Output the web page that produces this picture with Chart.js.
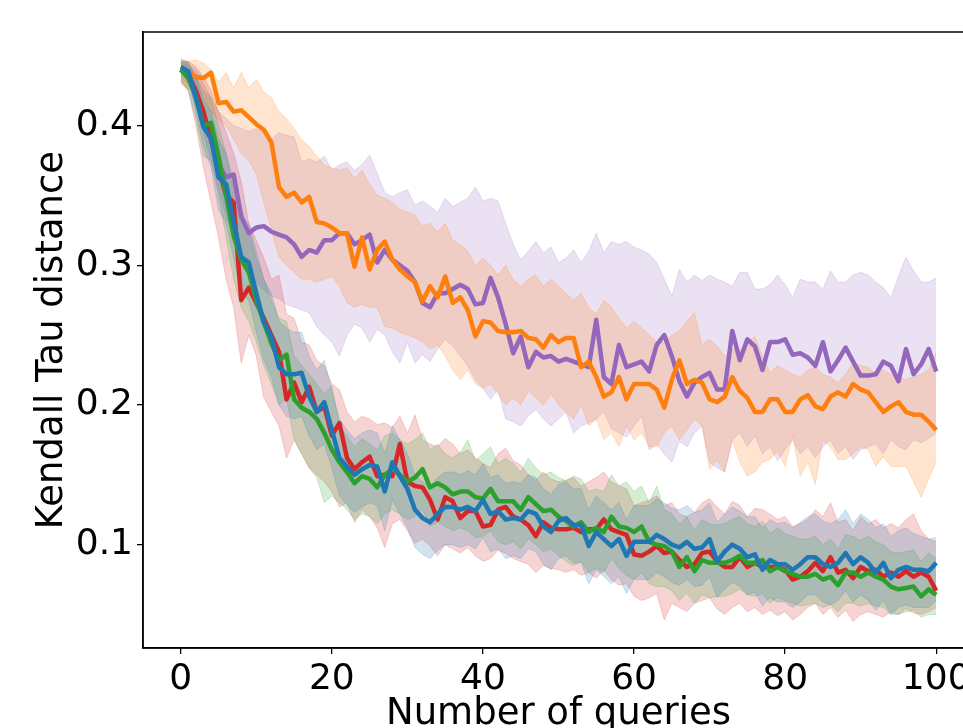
<!DOCTYPE html>
<html><head><meta charset="utf-8">
<script src="https://cdn.jsdelivr.net/npm/chart.js@4.4.1/dist/chart.umd.min.js"></script>
<style>
html,body{margin:0;padding:0;background:#fff;overflow:hidden}
#wrap{position:relative;width:963px;height:728px;overflow:hidden;background:#fff}
#box{position:absolute;left:0;top:0;width:1000px;height:760px}
canvas{display:block}
</style></head><body>
<div id="wrap"><div id="box"><canvas id="c" width="1000" height="760" style="width:1000px;height:760px"></canvas></div></div>
<script>
const queries = [0,1,2,3,4,5,6,7,8,9,10,11,12,13,14,15,16,17,18,19,20,21,22,23,24,25,26,27,28,29,30,31,32,33,34,35,36,37,38,39,40,41,42,43,44,45,46,47,48,49,50,51,52,53,54,55,56,57,58,59,60,61,62,63,64,65,66,67,68,69,70,71,72,73,74,75,76,77,78,79,80,81,82,83,84,85,86,87,88,89,90,91,92,93,94,95,96,97,98,99,100];
const xTicks = [0,20,40,60,80,100];
const yTicks = [0.1,0.2,0.3,0.4];
const yTickLabels = ['0.1','0.2','0.3','0.4'];

const redMean = [0.440,0.436,0.425,0.410,0.390,0.370,0.350,0.345,0.275,0.284,
 0.273,0.262,0.250,0.238,0.204,0.216,0.202,0.213,0.195,0.199,
 0.178,0.187,0.162,0.154,0.159,0.163,0.149,0.150,0.149,0.172,
 0.145,0.142,0.141,0.132,0.118,0.134,0.131,0.119,0.124,0.124,
 0.113,0.114,0.125,0.127,0.120,0.118,0.114,0.106,0.116,0.112,
 0.111,0.111,0.112,0.109,0.111,0.111,0.118,0.111,0.109,0.107,
 0.093,0.092,0.095,0.099,0.094,0.095,0.089,0.084,0.086,0.094,
 0.095,0.088,0.084,0.084,0.091,0.084,0.087,0.084,0.084,0.084,
 0.082,0.075,0.077,0.081,0.087,0.081,0.091,0.080,0.082,0.076,
 0.084,0.081,0.082,0.077,0.080,0.077,0.081,0.077,0.080,0.077,
 0.067];
const redUpper = [0.447,0.446,0.442,0.435,0.425,0.410,0.395,0.380,0.360,0.330,
 0.318,0.305,0.290,0.293,0.265,0.262,0.245,0.243,0.232,0.228,
 0.215,0.211,0.195,0.188,0.192,0.190,0.186,0.187,0.184,0.192,
 0.180,0.193,0.175,0.172,0.170,0.176,0.172,0.165,0.168,0.162,
 0.158,0.155,0.165,0.169,0.160,0.157,0.150,0.146,0.152,0.147,
 0.145,0.146,0.148,0.142,0.145,0.148,0.152,0.145,0.142,0.140,
 0.128,0.130,0.132,0.135,0.128,0.130,0.122,0.120,0.123,0.130,
 0.133,0.127,0.122,0.131,0.128,0.120,0.126,0.125,0.122,0.118,
 0.120,0.113,0.115,0.118,0.125,0.120,0.130,0.116,0.118,0.110,
 0.120,0.115,0.118,0.112,0.115,0.112,0.118,0.122,0.110,0.104,
 0.102];
const redLower = [0.432,0.425,0.400,0.370,0.345,0.320,0.290,0.270,0.230,0.250,
 0.235,0.205,0.195,0.185,0.162,0.175,0.165,0.155,0.150,0.145,
 0.138,0.127,0.130,0.116,0.125,0.120,0.112,0.098,0.115,0.118,
 0.110,0.101,0.104,0.099,0.092,0.100,0.097,0.094,0.098,0.092,
 0.088,0.090,0.096,0.094,0.090,0.088,0.086,0.080,0.085,0.083,
 0.082,0.080,0.082,0.078,0.080,0.076,0.082,0.075,0.071,0.072,
 0.063,0.060,0.062,0.065,0.046,0.058,0.055,0.052,0.058,0.060,
 0.062,0.054,0.050,0.055,0.058,0.052,0.055,0.050,0.053,0.049,
 0.052,0.046,0.050,0.055,0.058,0.050,0.055,0.048,0.053,0.045,
 0.050,0.052,0.050,0.048,0.052,0.050,0.054,0.051,0.050,0.052,
 0.055];

const greenMean = [0.440,0.434,0.421,0.400,0.402,0.378,0.350,0.321,0.304,0.295,
 0.275,0.259,0.244,0.232,0.236,0.204,0.198,0.195,0.190,0.180,
 0.168,0.159,0.152,0.144,0.149,0.147,0.141,0.150,0.154,0.150,
 0.145,0.148,0.154,0.141,0.144,0.141,0.136,0.138,0.138,0.134,
 0.133,0.140,0.131,0.131,0.131,0.125,0.134,0.129,0.124,0.125,
 0.120,0.117,0.113,0.116,0.109,0.112,0.109,0.120,0.113,0.112,
 0.109,0.113,0.102,0.100,0.099,0.095,0.084,0.091,0.081,0.089,
 0.087,0.087,0.087,0.089,0.092,0.087,0.087,0.089,0.081,0.084,
 0.081,0.079,0.077,0.077,0.079,0.075,0.077,0.071,0.080,0.080,
 0.077,0.080,0.077,0.075,0.070,0.068,0.069,0.070,0.063,0.068,
 0.064];
const greenUpper = [0.448,0.445,0.435,0.425,0.420,0.400,0.380,0.355,0.340,0.325,
 0.305,0.290,0.275,0.262,0.260,0.235,0.228,0.222,0.215,0.208,
 0.214,0.185,0.178,0.170,0.176,0.172,0.168,0.178,0.180,0.175,
 0.172,0.175,0.180,0.168,0.172,0.165,0.162,0.166,0.175,0.160,
 0.165,0.170,0.158,0.162,0.158,0.152,0.162,0.155,0.150,0.152,
 0.148,0.146,0.149,0.147,0.138,0.140,0.138,0.150,0.142,0.145,
 0.138,0.142,0.130,0.142,0.125,0.122,0.115,0.120,0.110,0.118,
 0.115,0.114,0.115,0.118,0.120,0.115,0.113,0.117,0.108,0.112,
 0.108,0.106,0.104,0.104,0.106,0.100,0.104,0.097,0.107,0.106,
 0.103,0.106,0.102,0.100,0.095,0.094,0.095,0.096,0.088,0.094,
 0.090];
const greenLower = [0.432,0.425,0.405,0.378,0.375,0.350,0.320,0.290,0.270,0.260,
 0.245,0.228,0.215,0.200,0.205,0.175,0.165,0.155,0.148,0.130,
 0.135,0.130,0.125,0.118,0.122,0.120,0.115,0.122,0.125,0.122,
 0.118,0.120,0.125,0.113,0.116,0.113,0.110,0.112,0.110,0.105,
 0.106,0.110,0.102,0.100,0.102,0.097,0.104,0.100,0.095,0.097,
 0.092,0.088,0.085,0.088,0.080,0.083,0.080,0.090,0.083,0.078,
 0.075,0.080,0.072,0.070,0.070,0.067,0.060,0.065,0.058,0.064,
 0.062,0.063,0.063,0.065,0.068,0.064,0.063,0.065,0.058,0.062,
 0.060,0.058,0.056,0.057,0.058,0.055,0.057,0.052,0.058,0.058,
 0.056,0.058,0.056,0.055,0.050,0.050,0.052,0.053,0.048,0.050,
 0.050];

const blueMean = [0.442,0.439,0.420,0.399,0.391,0.363,0.358,0.331,0.306,0.302,
 0.280,0.259,0.249,0.227,0.222,0.222,0.223,0.206,0.195,0.202,
 0.182,0.162,0.156,0.150,0.154,0.157,0.156,0.138,0.159,0.149,
 0.140,0.125,0.119,0.116,0.122,0.127,0.127,0.125,0.127,0.124,
 0.132,0.122,0.124,0.118,0.119,0.118,0.124,0.122,0.113,0.109,
 0.117,0.119,0.114,0.114,0.099,0.109,0.104,0.099,0.104,0.092,
 0.102,0.102,0.102,0.107,0.104,0.100,0.098,0.102,0.097,0.098,
 0.104,0.088,0.095,0.100,0.097,0.091,0.093,0.082,0.089,0.086,
 0.086,0.082,0.086,0.091,0.091,0.086,0.084,0.087,0.094,0.086,
 0.091,0.087,0.080,0.087,0.076,0.082,0.084,0.082,0.082,0.081,
 0.087];
const blueUpper = [0.446,0.445,0.435,0.418,0.410,0.390,0.380,0.360,0.335,0.330,
 0.310,0.290,0.280,0.260,0.255,0.252,0.252,0.235,0.225,0.232,
 0.210,0.190,0.182,0.176,0.180,0.182,0.180,0.165,0.185,0.175,
 0.165,0.150,0.145,0.142,0.148,0.152,0.152,0.150,0.153,0.150,
 0.158,0.148,0.150,0.144,0.145,0.144,0.150,0.148,0.140,0.136,
 0.143,0.145,0.140,0.140,0.125,0.135,0.130,0.125,0.130,0.118,
 0.128,0.128,0.128,0.133,0.130,0.126,0.125,0.128,0.123,0.125,
 0.130,0.116,0.122,0.127,0.124,0.120,0.120,0.112,0.118,0.115,
 0.116,0.112,0.116,0.120,0.122,0.117,0.115,0.118,0.125,0.115,
 0.122,0.118,0.112,0.115,0.106,0.110,0.112,0.108,0.106,0.104,
 0.105];
const blueLower = [0.438,0.432,0.410,0.385,0.370,0.340,0.330,0.305,0.280,0.275,
 0.252,0.232,0.220,0.200,0.192,0.190,0.192,0.178,0.168,0.172,
 0.155,0.135,0.128,0.123,0.127,0.130,0.128,0.110,0.132,0.122,
 0.112,0.098,0.093,0.090,0.096,0.100,0.100,0.098,0.100,0.097,
 0.105,0.095,0.097,0.090,0.092,0.090,0.097,0.095,0.086,0.082,
 0.090,0.092,0.087,0.087,0.072,0.082,0.077,0.072,0.077,0.065,
 0.075,0.075,0.075,0.080,0.077,0.073,0.071,0.075,0.070,0.071,
 0.077,0.062,0.068,0.073,0.070,0.064,0.066,0.056,0.062,0.059,
 0.059,0.055,0.059,0.064,0.064,0.059,0.057,0.060,0.067,0.059,
 0.064,0.060,0.053,0.060,0.050,0.055,0.057,0.055,0.055,0.055,
 0.060];

const orangeMean = [0.440,0.438,0.435,0.434,0.438,0.416,0.417,0.410,0.411,0.406,
 0.401,0.397,0.388,0.356,0.349,0.352,0.345,0.349,0.331,0.330,
 0.327,0.323,0.323,0.299,0.320,0.297,0.311,0.317,0.304,0.297,
 0.292,0.288,0.274,0.285,0.277,0.292,0.273,0.277,0.268,0.249,
 0.260,0.259,0.253,0.252,0.252,0.253,0.248,0.247,0.241,0.250,
 0.245,0.248,0.248,0.227,0.231,0.220,0.206,0.209,0.220,0.204,
 0.215,0.215,0.215,0.211,0.198,0.218,0.232,0.215,0.218,0.216,
 0.204,0.202,0.206,0.220,0.210,0.205,0.195,0.195,0.204,0.204,
 0.195,0.195,0.204,0.207,0.199,0.197,0.206,0.209,0.206,0.215,
 0.211,0.209,0.202,0.195,0.199,0.202,0.195,0.193,0.193,0.188,
 0.182];
const orangeUpper = [0.445,0.446,0.447,0.445,0.440,0.431,0.438,0.427,0.438,0.427,
 0.433,0.424,0.420,0.410,0.405,0.398,0.390,0.385,0.378,0.372,
 0.370,0.368,0.370,0.362,0.368,0.358,0.350,0.348,0.345,0.340,
 0.338,0.336,0.328,0.330,0.324,0.330,0.318,0.315,0.310,0.300,
 0.305,0.300,0.293,0.300,0.290,0.285,0.290,0.293,0.285,0.290,
 0.285,0.280,0.275,0.280,0.270,0.265,0.275,0.270,0.262,0.255,
 0.260,0.255,0.250,0.245,0.245,0.250,0.253,0.260,0.266,0.243,
 0.247,0.242,0.235,0.240,0.238,0.245,0.249,0.235,0.223,0.228,
 0.225,0.222,0.220,0.225,0.227,0.222,0.220,0.216,0.222,0.230,
 0.228,0.227,0.222,0.225,0.222,0.220,0.218,0.220,0.222,0.225,
 0.238];
const orangeLower = [0.430,0.426,0.425,0.420,0.410,0.404,0.400,0.390,0.380,0.375,
 0.365,0.345,0.325,0.306,0.300,0.295,0.290,0.290,0.288,0.290,
 0.292,0.285,0.273,0.270,0.272,0.270,0.270,0.256,0.255,0.252,
 0.250,0.248,0.245,0.240,0.243,0.235,0.225,0.218,0.225,0.215,
 0.212,0.215,0.208,0.200,0.205,0.200,0.210,0.205,0.200,0.208,
 0.200,0.195,0.190,0.200,0.185,0.190,0.175,0.180,0.170,0.185,
 0.175,0.180,0.170,0.170,0.180,0.185,0.175,0.182,0.190,0.185,
 0.154,0.160,0.152,0.175,0.159,0.149,0.152,0.159,0.161,0.167,
 0.156,0.178,0.149,0.159,0.143,0.175,0.170,0.161,0.161,0.165,
 0.170,0.168,0.156,0.163,0.156,0.156,0.156,0.145,0.134,0.147,
 0.159];

const purpleMean = [0.440,0.436,0.425,0.405,0.390,0.372,0.363,0.365,0.335,0.323,
 0.327,0.328,0.324,0.322,0.320,0.315,0.306,0.311,0.309,0.318,
 0.318,0.323,0.323,0.315,0.318,0.322,0.302,0.311,0.304,0.300,
 0.296,0.288,0.273,0.270,0.280,0.280,0.283,0.286,0.283,0.272,
 0.273,0.291,0.277,0.258,0.237,0.249,0.227,0.238,0.234,0.235,
 0.231,0.233,0.231,0.229,0.227,0.261,0.220,0.215,0.243,0.227,
 0.229,0.231,0.224,0.243,0.250,0.235,0.217,0.206,0.216,0.220,
 0.223,0.211,0.211,0.253,0.232,0.247,0.242,0.225,0.245,0.245,
 0.247,0.236,0.237,0.234,0.228,0.245,0.224,0.232,0.241,0.231,
 0.221,0.221,0.222,0.231,0.228,0.217,0.240,0.222,0.229,0.240,
 0.224];
const purpleUpper = [0.445,0.443,0.440,0.430,0.420,0.410,0.405,0.400,0.398,0.396,
 0.398,0.395,0.390,0.395,0.393,0.392,0.374,0.376,0.374,0.378,
 0.368,0.372,0.374,0.368,0.372,0.379,0.366,0.352,0.349,0.352,
 0.354,0.343,0.346,0.342,0.338,0.348,0.342,0.345,0.348,0.356,
 0.346,0.348,0.346,0.330,0.315,0.304,0.310,0.317,0.309,0.313,
 0.302,0.305,0.311,0.302,0.310,0.323,0.309,0.317,0.315,0.317,
 0.313,0.311,0.308,0.302,0.290,0.278,0.297,0.288,0.293,0.289,
 0.293,0.290,0.288,0.285,0.295,0.295,0.283,0.283,0.286,0.293,
 0.286,0.277,0.290,0.288,0.288,0.283,0.296,0.288,0.288,0.293,
 0.295,0.293,0.288,0.284,0.277,0.292,0.306,0.296,0.288,0.288,
 0.291];
const purpleLower = [0.435,0.430,0.415,0.395,0.375,0.355,0.335,0.320,0.305,0.295,
 0.288,0.282,0.278,0.276,0.272,0.270,0.268,0.266,0.256,0.250,
 0.245,0.235,0.250,0.258,0.255,0.245,0.254,0.250,0.238,0.230,
 0.245,0.230,0.236,0.231,0.240,0.247,0.242,0.235,0.228,0.218,
 0.212,0.204,0.211,0.190,0.188,0.185,0.192,0.197,0.190,0.185,
 0.190,0.195,0.180,0.185,0.187,0.190,0.195,0.183,0.180,0.177,
 0.185,0.192,0.168,0.172,0.165,0.159,0.174,0.170,0.180,0.185,
 0.159,0.155,0.152,0.175,0.180,0.170,0.178,0.165,0.170,0.160,
 0.168,0.175,0.165,0.170,0.162,0.170,0.175,0.165,0.170,0.161,
 0.168,0.170,0.172,0.165,0.175,0.170,0.168,0.175,0.173,0.176,
 0.180];

const series = [
  {name:'blue',   rgb:'31,119,180',  mean:blueMean,   up:blueUpper,   lo:blueLower,   order:1},
  {name:'green',  rgb:'44,160,44',   mean:greenMean,  up:greenUpper,  lo:greenLower,  order:2},
  {name:'red',    rgb:'214,39,40',   mean:redMean,    up:redUpper,    lo:redLower,    order:3},
  {name:'orange', rgb:'255,127,14',  mean:orangeMean, up:orangeUpper, lo:orangeLower, order:4},
  {name:'purple', rgb:'148,103,189', mean:purpleMean, up:purpleUpper, lo:purpleLower, order:5}
];

function pts(arr){ return queries.map((q,i)=>({x:q,y:arr[i]})); }

const datasets = [];
series.forEach(s=>{
  datasets.push({label:s.name, data:pts(s.mean), borderColor:'rgb('+s.rgb+')', borderWidth:4.5,
    pointRadius:0, pointHoverRadius:0, fill:false, tension:0, order:s.order,
    borderJoinStyle:'round', borderCapStyle:'butt'});
});
series.forEach((s,k)=>{
  datasets.push({label:s.name+' upper', data:pts(s.up), borderColor:'rgba('+s.rgb+',0.2)', borderWidth:1,
    backgroundColor:'rgba('+s.rgb+',0.2)', pointRadius:0, pointHoverRadius:0, fill:'+1', tension:0, order:20+k});
  datasets.push({label:s.name+' lower', data:pts(s.lo), borderColor:'rgba('+s.rgb+',0.2)', borderWidth:1,
    pointRadius:0, pointHoverRadius:0, fill:false, tension:0, order:20+k});
});

const frame = {
  id:'frame',
  afterDraw(chart){
    const a = chart.chartArea, ctx = chart.ctx;
    ctx.save(); ctx.strokeStyle='#000'; ctx.lineWidth=1.5;
    ctx.strokeRect(a.left, a.top, a.right-a.left, a.bottom-a.top);
    ctx.restore();
  }
};

const tickFont = {family:'DejaVu Sans', size:36};
const titleFont = {family:'DejaVu Sans', size:37};
new Chart(document.getElementById('c'), {
  type:'line',
  data:{datasets},
  options:{
    responsive:false, animation:false, devicePixelRatio:1,
    layout:{padding:{top:32, right:26, left:0, bottom:0}},
    plugins:{legend:{display:false}, tooltip:{enabled:false}, filler:{propagate:false}},
    scales:{
      x:{type:'linear', min:-5, max:105,
        afterBuildTicks(sc){ sc.ticks = xTicks.map(v=>({value:v})); },
        afterFit(sc){ sc.height = 112; },
        ticks:{font:tickFont, color:'#000', padding:4, maxRotation:0, autoSkip:false, callback:(v)=>String(v)},
        grid:{display:true, drawOnChartArea:false, drawTicks:true, tickLength:6, color:'#000', lineWidth:1.3},
        border:{display:true, color:'#000', width:1.5},
        title:{display:true, text:'Number of queries', font:titleFont, color:'#000', padding:{top:0,bottom:23}}
      },
      y:{type:'linear', min:0.026, max:0.467,
        afterBuildTicks(sc){ sc.ticks = yTicks.map(v=>({value:v})); },
        afterFit(sc){ sc.width = 143; },
        ticks:{font:tickFont, color:'#000', padding:4, autoSkip:false,
          callback:(v)=>{ const i = yTicks.indexOf(v); return i>=0 ? yTickLabels[i] : ''; }},
        grid:{display:true, drawOnChartArea:false, drawTicks:true, tickLength:6, color:'#000', lineWidth:1.3},
        border:{display:true, color:'#000', width:1.5},
        title:{display:true, text:'Kendall Tau distance', font:titleFont, color:'#000', padding:{top:30,bottom:0}}
      }
    }
  },
  plugins:[frame]
});
</script></body></html>
